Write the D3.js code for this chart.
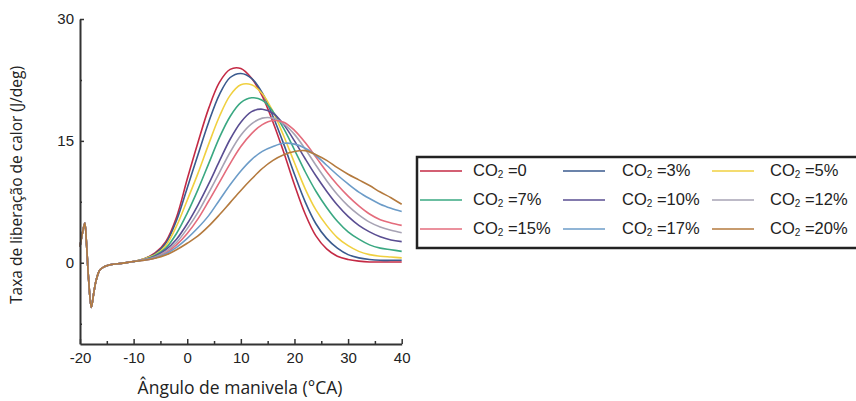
<!DOCTYPE html>
<html>
<head>
<meta charset="utf-8">
<script src="https://cdn.jsdelivr.net/npm/d3@7"></script>
<style>
  body { margin: 0; background: #fff; overflow: hidden; }
  text { fill: #222; }
</style>
</head>
<body>
<svg id="chart" width="856" height="401"></svg>
<script>
// shared start of all curves (ignition spike, identical for every case)
var prefixAngles = [-20, -19.5, -19.1, -18.8, -18.4, -17.9, -17.5, -17, -16.3, -15.5, -14.4, -12, -10];
var prefixRate   = [2.0, 3.8, 4.9, 2.5, -2.0, -5.5, -4.0, -2.2, -0.9, -0.5, -0.25, -0.05, 0.15];

// crank angles for the per-case part
var angles = [-8, -6, -4, -2, 0, 2, 4, 6, 8, 10, 12, 14, 16, 18, 20, 22, 24, 26, 28, 30, 32, 34, 36, 38, 40];

var co2_0  = [0.5, 1.2, 2.6, 5.6, 10.3, 14.8, 19.0, 22.2, 23.8, 23.9, 22.7, 20.5, 17.3, 13.6, 9.6, 6.0, 3.3, 1.7, 0.8, 0.4, 0.2, 0.1, 0.1, 0.1, 0.1];
var co2_3  = [0.5, 1.1, 2.4, 5.2, 9.2, 13.3, 17.3, 20.7, 22.8, 23.3, 22.7, 20.9, 18.0, 14.6, 10.9, 7.5, 4.8, 3.0, 1.8, 1.0, 0.6, 0.4, 0.3, 0.3, 0.3];
var co2_5  = [0.5, 1.0, 2.1, 4.5, 7.7, 11.0, 14.6, 18.0, 20.6, 21.9, 21.9, 20.8, 18.6, 15.6, 12.3, 9.1, 6.5, 4.6, 3.1, 2.1, 1.4, 1.0, 0.8, 0.7, 0.6];
var co2_7  = [0.4, 0.9, 1.8, 3.6, 6.1, 9.0, 12.2, 15.4, 18.0, 19.7, 20.3, 20.0, 18.6, 16.5, 13.9, 11.2, 8.8, 6.8, 5.1, 3.8, 2.9, 2.2, 1.8, 1.6, 1.4];
var co2_10 = [0.4, 0.8, 1.6, 2.9, 4.8, 7.1, 9.7, 12.5, 15.2, 17.3, 18.6, 18.9, 18.4, 17.0, 15.0, 12.8, 10.7, 8.8, 7.1, 5.7, 4.6, 3.8, 3.2, 2.8, 2.6];
var co2_12 = [0.4, 0.7, 1.4, 2.5, 4.2, 6.2, 8.6, 11.1, 13.6, 15.7, 17.1, 17.8, 17.8, 17.1, 15.8, 14.0, 12.0, 10.1, 8.4, 7.0, 5.9, 5.0, 4.4, 4.0, 3.7];
var co2_15 = [0.3, 0.6, 1.2, 2.2, 3.6, 5.4, 7.6, 9.9, 12.2, 14.3, 15.9, 17.0, 17.5, 17.3, 16.3, 14.8, 13.0, 11.2, 9.6, 8.2, 7.0, 6.0, 5.3, 4.9, 4.6];
var co2_17 = [0.3, 0.6, 1.1, 1.9, 3.0, 4.3, 5.8, 7.7, 9.6, 11.3, 12.7, 13.7, 14.3, 14.7, 14.6, 14.1, 13.2, 12.0, 10.8, 9.7, 8.7, 7.9, 7.2, 6.7, 6.3];
var co2_20 = [0.3, 0.55, 0.95, 1.6, 2.4, 3.3, 4.5, 5.9, 7.4, 8.9, 10.3, 11.6, 12.6, 13.3, 13.7, 13.8, 13.3, 12.6, 11.7, 10.9, 10.2, 9.5, 8.7, 8.0, 7.2];

var seriesLabels = ["=0", "=3%", "=5%", "=7%", "=10%", "=12%", "=15%", "=17%", "=20%"];
var seriesValues = [co2_0, co2_3, co2_5, co2_7, co2_10, co2_12, co2_15, co2_17, co2_20];
var seriesColors = ["#c42a45", "#3a5a8e", "#f0d040", "#3aa882", "#5a4e92", "#a7a3b4", "#e46c7c", "#6c9cc8", "#b47a3e"];

var yMajor = [0, 15, 30];
var yMinor = [-7.5, 7.5, 22.5];
var xMajor = [-20, -10, 0, 10, 20, 30, 40];
var xMinor = [-15, -5, 5, 15, 25, 35];

var svg = d3.select("#chart");

var x = d3.scaleLinear().domain([-20, 40]).range([80, 401.7]);
var y = d3.scaleLinear().domain([-10, 30]).range([344, 19]);

// curves
var line = d3.line()
    .x(function(d) { return x(d[0]); })
    .y(function(d) { return y(d[1]); })
    .curve(d3.curveCatmullRom.alpha(0.5));

seriesValues.forEach(function(vals, i) {
    var pts = prefixAngles.map(function(a, j) { return [a, prefixRate[j]]; });
    angles.forEach(function(a, j) { pts.push([a, vals[j]]); });
    svg.append("path")
        .datum(pts)
        .attr("d", line)
        .attr("fill", "none")
        .attr("stroke", seriesColors[i])
        .attr("stroke-width", 1.6)
        .attr("stroke-linejoin", "round");
});

// plain hyphen minus like the original
var fmt = function(d) { return String(d); };

// axes (ticks point inwards)
var gy = svg.append("g").attr("transform", "translate(80,0)")
    .call(d3.axisLeft(y).tickValues(yMajor).tickSizeInner(-4).tickSizeOuter(0).tickPadding(6).tickFormat(fmt));
var gyMinor = svg.append("g").attr("transform", "translate(80,0)")
    .call(d3.axisLeft(y).tickValues(yMinor).tickSizeInner(-2).tickSizeOuter(0).tickFormat(""));
var gx = svg.append("g").attr("transform", "translate(0,344)")
    .call(d3.axisBottom(x).tickValues(xMajor).tickSizeInner(-5).tickSizeOuter(0).tickPadding(8).tickFormat(fmt));
var gxMinor = svg.append("g").attr("transform", "translate(0,344)")
    .call(d3.axisBottom(x).tickValues(xMinor).tickSizeInner(-3).tickSizeOuter(0).tickFormat(""));

gyMinor.select(".domain").remove();
gxMinor.select(".domain").remove();
[gy, gyMinor, gx, gxMinor].forEach(function(g) {
    g.selectAll(".domain").attr("stroke", "#333").attr("stroke-width", 2);
    g.selectAll(".tick line").attr("stroke", "#333").attr("stroke-width", 1.5);
    g.selectAll(".tick text")
        .style("font-family", "'Liberation Sans', Arial, sans-serif")
        .style("font-size", "15px")
        .style("fill", "#222");
});

// axis titles
svg.append("text")
    .attr("transform", "translate(22,185) rotate(-90)")
    .attr("text-anchor", "middle")
    .style("font-family", "'Open Sans', 'Noto Sans', sans-serif")
    .style("font-size", "15.5px")
    .text("Taxa de liberação de calor (J/deg)");

svg.append("text")
    .attr("x", 240)
    .attr("y", 394)
    .attr("text-anchor", "middle")
    .style("font-family", "'Open Sans', 'Noto Sans', sans-serif")
    .style("font-size", "17.5px")
    .text("Ângulo de manivela (°CA)");

// legend (box runs off the right edge, as in the original)
var legend = svg.append("g");
legend.append("rect")
    .attr("x", 417).attr("y", 157)
    .attr("width", 460).attr("height", 91)
    .attr("fill", "#fff");
legend.append("path")
    .attr("d", "M900,157H417V248H900")
    .attr("fill", "none")
    .attr("stroke", "#222")
    .attr("stroke-width", 2.5);

var colX = [420, 563, 712];
var textX = [473, 622, 770];
var rowY = [171, 200, 229];

seriesLabels.forEach(function(lab, i) {
    var c = i % 3, r = Math.floor(i / 3);
    legend.append("line")
        .attr("x1", colX[c]).attr("x2", colX[c] + 42)
        .attr("y1", rowY[r]).attr("y2", rowY[r])
        .attr("stroke", seriesColors[i])
        .attr("stroke-width", 1.6);
    var t = legend.append("text")
        .attr("x", textX[c])
        .attr("y", rowY[r] + 5)
        .style("font-family", "'Liberation Sans', Arial, sans-serif")
        .style("font-size", "16.5px");
    t.append("tspan").text("CO");
    t.append("tspan").attr("dy", 2).style("font-size", "10px").text("2");
    t.append("tspan").attr("dy", -2).text(" " + lab);
});
</script>
</body>
</html>
